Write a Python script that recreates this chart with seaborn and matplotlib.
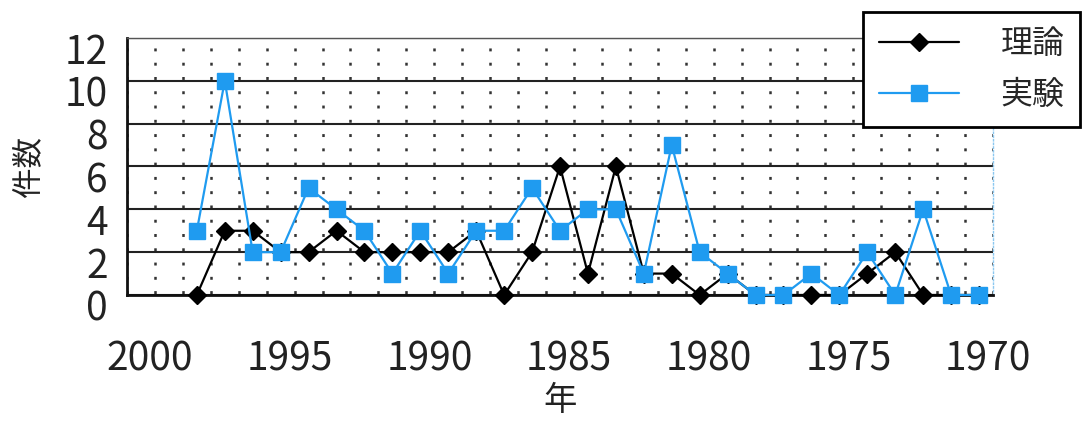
import pandas as pd
import matplotlib.pyplot as plt
import matplotlib.transforms as mtransforms
import seaborn as sns

# data (years run right to left)
nen = [1998, 1997, 1996, 1995, 1994, 1993, 1992, 1991, 1990, 1989,
       1988, 1987, 1986, 1985, 1984, 1983, 1982, 1981, 1980, 1979,
       1978, 1977, 1976, 1975, 1974, 1973, 1972, 1971, 1970]
riron = [0, 3, 3, 2, 2, 3, 2, 2, 2, 2,
         3, 0, 2, 6, 1, 6, 1, 1, 0, 1,
         0, 0, 0, 0, 1, 2, 0, 0, 0]
jikken = [3, 10, 2, 2, 5, 4, 3, 1, 3, 1,
          3, 3, 5, 3, 4, 4, 1, 7, 2, 1,
          0, 0, 1, 0, 2, 0, 4, 0, 0]
x_etiket = [2000, 1995, 1990, 1985, 1980, 1975, 1970]
y_etiket = [0, 2, 4, 6, 8, 10, 12]

veri = pd.DataFrame({"年": nen, "理論": riron, "実験": jikken})

sns.set_style("white")
plt.rcParams["font.family"] = ["Noto Sans CJK JP", "DejaVu Sans"]

fig = plt.figure(figsize=(10.85, 4.23), dpi=100)
ax = fig.add_axes([127/1085, 1-295/423, 866/1085, 257/423])

mavi = "#1f9bf0"
sns.lineplot(x="年", y="理論", data=veri, ax=ax, color="black", lw=1.6,
             marker="D", markersize=9, markeredgecolor="black", markeredgewidth=1,
             clip_on=False, zorder=3, label="理論")
sns.lineplot(x="年", y="実験", data=veri, ax=ax, color=mavi, lw=1.6,
             marker="s", markersize=11, markeredgecolor=mavi, markeredgewidth=1,
             clip_on=False, zorder=4, label="実験")

ax.set_xlim(2000.5, 1969.5)
ax.set_ylim(0, 12)

# category boundaries -> inward ticks + dotted grid
sinir = [y + 0.5 for y in range(1969, 2001)]
ax.set_xticks(sinir)
ax.set_xticks(x_etiket, minor=True)
ax.set_xticklabels([str(v) for v in x_etiket], minor=True, fontsize=28, color="#222222")
ax.tick_params(axis="x", which="major", direction="in", length=10, width=1.5,
               color="#222222", labelbottom=False)
ax.tick_params(axis="x", which="minor", length=0, pad=32)
ax.grid(axis="x", which="major", color="#333333", lw=1.8,
        linestyle=(5.13, (1.17, 4.54)))

ax.set_yticks(y_etiket)
ax.set_yticklabels([str(v) for v in y_etiket], fontsize=28, color="#222222")
ax.tick_params(axis="y", length=0, pad=14)
ax.grid(axis="y", color="#222222", lw=1.5, linestyle="-")

# small label offsets like the original
dx = mtransforms.ScaledTranslation(9/100, 0, fig.dpi_scale_trans)
for t in ax.get_xticklabels(minor=True):
    t.set_transform(t.get_transform() + dx)
dy = mtransforms.ScaledTranslation(0, -10/100, fig.dpi_scale_trans)
for t in ax.get_yticklabels():
    t.set_transform(t.get_transform() + dy)

ax.set_xlabel("年", fontsize=24, color="#222222", va="center")
ax.xaxis.set_label_coords(0.5, -0.41)
ax.set_ylabel("件数", fontsize=22, color="#222222", va="center")
ax.yaxis.set_label_coords(-0.114, 0.5)

for s in ["left", "bottom"]:
    ax.spines[s].set_color("#111111")
    ax.spines[s].set_linewidth(2)
ax.spines["top"].set_color("#555555")
ax.spines["top"].set_linewidth(1)
ax.spines["right"].set_color("#8cc8f0")
ax.spines["right"].set_linewidth(1)
ax.spines["right"].set_linestyle(":")

ax.legend(loc="upper left", bbox_to_anchor=(863/1085, 1-12/423),
          bbox_transform=fig.transFigure, borderaxespad=0, fontsize=23,
          handlelength=2.5, handletextpad=1.3, borderpad=0.5, labelspacing=0.6,
          fancybox=False, framealpha=1, edgecolor="black")
ax.get_legend().get_frame().set_linewidth(2)
ax.get_legend().set_zorder(10)

plt.savefig("out.png", dpi=100)
